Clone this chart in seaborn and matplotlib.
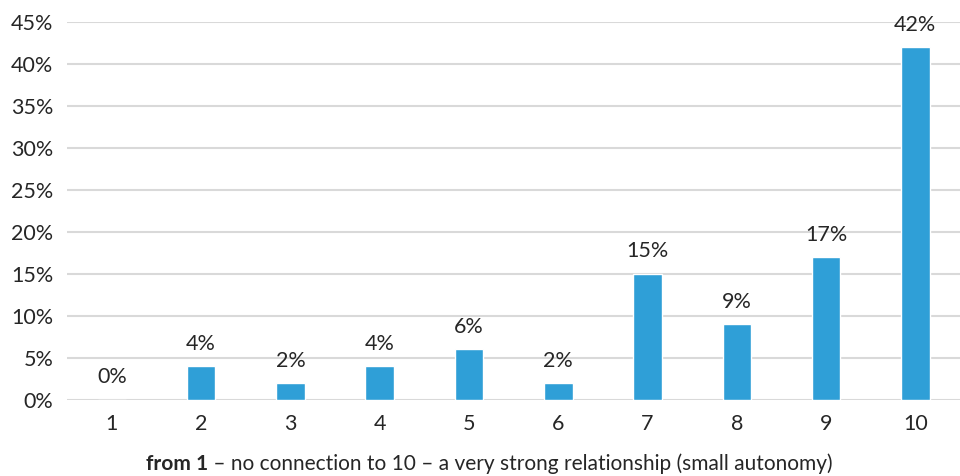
import seaborn as sns
import pandas as pd
import matplotlib.pyplot as plt
from matplotlib.ticker import PercentFormatter

sns.set_theme(style="white")
plt.rcParams["font.family"] = ["Lato", "DejaVu Sans"]

scores = ["1", "2", "3", "4", "5", "6", "7", "8", "9", "10"]
shares = [0, 4, 2, 4, 6, 2, 15, 9, 17, 42]
BAR_COLOR = "#2F9FD7"

df = pd.DataFrame({"score": scores, "share": shares})

fig = plt.figure(figsize=(9.6, 4.76), dpi=100)
ax = fig.add_axes([0.07, 0.16, 0.93, 0.794])

sns.barplot(data=df, x="score", y="share", color=BAR_COLOR, saturation=1,
            width=0.32, ax=ax)

ax.set_ylim(0, 45)
ax.set_yticks(range(0, 46, 5))
ax.yaxis.set_major_formatter(PercentFormatter(decimals=0))
ax.grid(axis="y", color="#D9D9D9", linewidth=1.5)
ax.set_axisbelow(True)
for s in ax.spines.values():
    s.set_visible(False)
ax.tick_params(axis="both", length=0, labelsize=15.5, colors="#262626")
ax.tick_params(axis="y", pad=10)
ax.tick_params(axis="x", pad=10)
ax.set_xlabel("")
ax.set_ylabel("")

for c in ax.containers:
    ax.bar_label(c, labels=[f"{v}%" for v in shares], padding=9,
                 fontsize=15.5, color="#262626")

# x axis caption: bold start, regular rest, centred together
bold = "from 1"
rest = " \u2013 no connection to 10 \u2013 a very strong relationship (small autonomy)"
t1 = fig.text(0, 0.012, bold, fontweight="bold", fontsize=15, color="#262626")
t2 = fig.text(0, 0.012, rest, fontsize=15, color="#262626")
fig.canvas.draw()
r = fig.canvas.get_renderer()
w1 = t1.get_window_extent(r).width
w2 = t2.get_window_extent(r).width
x0 = (fig.bbox.width * 0.51 - (w1 + w2) / 2)
t1.set_x(x0 / fig.bbox.width)
t2.set_x((x0 + w1) / fig.bbox.width)

fig.savefig("out.png", dpi=100)
